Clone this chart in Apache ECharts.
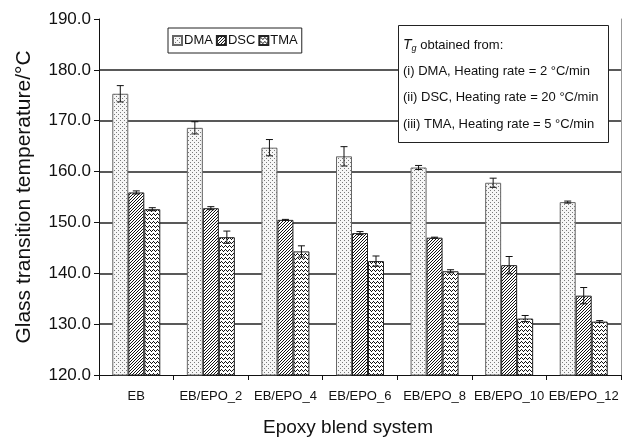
<!DOCTYPE html>
<html>
<head>
<meta charset="utf-8">
<script src="https://cdn.jsdelivr.net/npm/echarts@6/dist/echarts.min.js"></script>
<style>
html,body{margin:0;padding:0;background:#fff;}
#chart{width:626px;height:439px;}
</style>
</head>
<body>
<div id="chart"></div>
<script>
const categories = ['EB','EB/EPO_2','EB/EPO_4','EB/EPO_6','EB/EPO_8','EB/EPO_10','EB/EPO_12'];
const seriesNames = ['DMA','DSC','TMA'];
const dmaValues = [175.3, 168.6, 164.7, 163.0, 160.8, 157.8, 154.0];
const dmaErrors = [1.6, 1.2, 1.6, 1.9, 0.4, 0.9, 0.2];
const dscValues = [155.9, 152.8, 150.5, 147.9, 147.0, 141.6, 135.6];
const dscErrors = [0.3, 0.3, 0.1, 0.3, 0.1, 1.7, 1.6];
const tmaValues = [152.6, 147.1, 144.3, 142.4, 140.4, 131.1, 130.5];
const tmaErrors = [0.3, 1.2, 1.1, 1.0, 0.3, 0.6, 0.2];
const yTicks = [120, 130, 140, 150, 160, 170, 180, 190];
const infoLines = ['(i) DMA, Heating rate = 2 °C/min', '(ii) DSC, Heating rate = 20 °C/min', '(iii) TMA, Heating rate = 5 °C/min'];

const FONT = '"Liberation Sans", Arial, Helvetica, sans-serif';
const BAR_W = 16;

function makePattern(w, h, bg, draw) {
  const c = document.createElement('canvas');
  c.width = w; c.height = h;
  const ctx = c.getContext('2d');
  ctx.fillStyle = bg; ctx.fillRect(0, 0, w, h);
  draw(ctx);
  return { image: c, repeat: 'repeat' };
}
const dmaPattern = makePattern(4, 4, '#f6f6f6', ctx => {
  ctx.fillStyle = '#7a7a7a';
  ctx.fillRect(0, 0, 1, 1);
  ctx.fillRect(2, 2, 1, 1);
});
const dscPattern = makePattern(3, 3, '#ffffff', ctx => {
  ctx.fillStyle = '#111';
  ctx.fillRect(2, 0, 1, 1);
  ctx.fillRect(1, 1, 1, 1);
  ctx.fillRect(0, 2, 1, 1);
});
const tmaPattern = makePattern(4, 4, '#ffffff', ctx => {
  ctx.fillStyle = '#111';
  ctx.fillRect(0, 2, 1, 1);
  ctx.fillRect(1, 1, 1, 1);
  ctx.fillRect(2, 2, 1, 1);
  ctx.fillRect(3, 3, 1, 1);
});
const patterns = [dmaPattern, dscPattern, tmaPattern];
const borderColors = ['#666', '#222', '#222'];
const valueSets = [dmaValues, dscValues, tmaValues];
const errorSets = [dmaErrors, dscErrors, tmaErrors];

const barSeries = seriesNames.map((name, k) => ({
  name: name,
  type: 'bar',
  data: valueSets[k],
  barWidth: BAR_W,
  barGap: '0%',
  itemStyle: { color: patterns[k], borderColor: borderColors[k], borderWidth: 1 },
  z: 2
}));

const errSeries = seriesNames.map((name, k) => ({
  type: 'custom',
  name: name + ' err',
  data: valueSets[k].map((v, i) => [i, v, errorSets[k][i]]),
  z: 5,
  silent: true,
  renderItem: function (params, api) {
    const i = api.value(0), v = api.value(1), e = api.value(2);
    const off = (k - 1) * BAR_W;
    const top = api.coord([i, v + e]);
    const bot = api.coord([i, v - e]);
    const x = top[0] + off;
    const cap = 3.5;
    const st = { stroke: '#111', lineWidth: 1 };
    return {
      type: 'group',
      children: [
        { type: 'line', shape: { x1: x, y1: top[1], x2: x, y2: bot[1] }, style: st },
        { type: 'line', shape: { x1: x - cap, y1: top[1], x2: x + cap, y2: top[1] }, style: st },
        { type: 'line', shape: { x1: x - cap, y1: bot[1], x2: x + cap, y2: bot[1] }, style: st }
      ]
    };
  }
}));

const chart = echarts.init(document.getElementById('chart'), null, { renderer: 'canvas' });
const option = {
  backgroundColor: '#fff',
  animation: false,
  textStyle: { fontFamily: FONT },
  grid: { left: 99, right: 5, top: 19, bottom: 64, containLabel: false },
  legend: {
    data: seriesNames,
    left: 168, top: 28,
    orient: 'horizontal',
    icon: 'rect',
    itemWidth: 9, itemHeight: 9, itemGap: 3,
    padding: [6, 4, 6, 4],
    borderColor: '#222', borderWidth: 1,
    backgroundColor: '#fff',
    textStyle: { fontFamily: FONT, fontSize: 13, color: '#111', padding: [0, 0, 0, -3] },
    selectedMode: false,
    z: 20
  },
  xAxis: {
    type: 'category',
    data: categories,
    axisLine: { lineStyle: { color: '#111', width: 1 } },
    axisTick: { show: true, length: 5, lineStyle: { color: '#111' } },
    axisLabel: { fontFamily: FONT, fontSize: 13, color: '#111', margin: 15, interval: 0, hideOverlap: false },
    splitLine: { show: false }
  },
  yAxis: [{
    type: 'value',
    min: yTicks[0], max: yTicks[yTicks.length - 1], interval: 10,
    axisLine: { show: true, lineStyle: { color: '#111', width: 1 } },
    axisTick: { show: true, length: 5, lineStyle: { color: '#111' } },
    axisLabel: { fontFamily: FONT, fontSize: 17, color: '#111', margin: 8, formatter: v => v.toFixed(1) },
    splitLine: { show: true, showMinLine: false, showMaxLine: false, lineStyle: { color: '#222', width: 1.5 } }
  }, {
    type: 'value',
    position: 'right',
    min: yTicks[0], max: yTicks[yTicks.length - 1], interval: 10,
    axisLine: { show: true, lineStyle: { color: '#999', width: 1 } },
    axisTick: { show: false }, axisLabel: { show: false }, splitLine: { show: false }
  }],
  graphic: [
    {
      type: 'text', z: 50,
      style: { text: 'Glass transition temperature/°C', x: 0, y: 0, fill: '#111', font: '21px ' + FONT, textAlign: 'center', textVerticalAlign: 'middle' },
      x: 24, y: 197, rotation: Math.PI / 2
    },
    {
      type: 'text', z: 50,
      style: { text: 'Epoxy blend system', fill: '#111', font: '19px ' + FONT, textAlign: 'center', textVerticalAlign: 'middle' },
      x: 348, y: 428
    },
    {
      type: 'rect', z: 50,
      shape: { x: 398.5, y: 25.5, width: 210, height: 117 },
      style: { fill: '#fff', stroke: '#222', lineWidth: 1 }
    },
    {
      type: 'text', z: 51,
      x: 403, y: 45,
      style: {
        text: '{it|T}{sub|g} obtained from:',
        font: '13px ' + FONT, fill: '#111', textVerticalAlign: 'middle',
        rich: {
          it: { fontStyle: 'italic', fontSize: 14, fontFamily: FONT, fill: '#111' },
          sub: { fontStyle: 'italic', fontSize: 9, fontFamily: FONT, fill: '#111', verticalAlign: 'bottom', padding: [6, 0, 0, 0] }
        }
      }
    },
    { type: 'text', z: 51, x: 403, y: 71.5, style: { text: infoLines[0], font: '13px ' + FONT, fill: '#111', textVerticalAlign: 'middle' } },
    { type: 'text', z: 51, x: 403, y: 97.5, style: { text: infoLines[1], font: '13px ' + FONT, fill: '#111', textVerticalAlign: 'middle' } },
    { type: 'text', z: 51, x: 403, y: 124, style: { text: infoLines[2], font: '13px ' + FONT, fill: '#111', textVerticalAlign: 'middle' } }
  ],
  series: barSeries.concat(errSeries)
};
chart.setOption(option);
</script>
</body>
</html>
